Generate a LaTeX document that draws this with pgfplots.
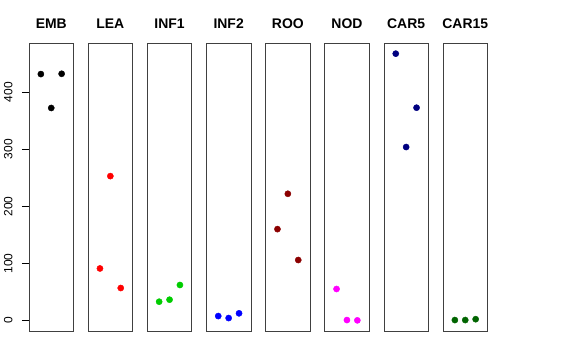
\documentclass[border=0pt]{standalone}
\usepackage{pgfplots}
\pgfplotsset{compat=1.18}
\usepackage{fontspec}
\setmainfont{Liberation Sans}
\definecolor{cEMB}{RGB}{0,0,0}
\definecolor{cLEA}{RGB}{255,0,0}
\definecolor{cINFa}{RGB}{0,205,0}
\definecolor{cINFb}{RGB}{0,0,255}
\definecolor{cROO}{RGB}{139,0,0}
\definecolor{cNOD}{RGB}{255,0,255}
\definecolor{cCARa}{RGB}{0,0,128}
\definecolor{cCARb}{RGB}{0,100,0}
\pgfplotsset{
  panel/.style={
    scale only axis, width=44.5bp, height=288bp, anchor=south west,
    xmin=-0.14, xmax=4.14, ymin=-18.7, ymax=486.5,
    xtick=\empty, ytick=\empty,
    axis line style={black!75, line width=0.8bp},
    title style={font=\fontsize{14}{16}\selectfont\bfseries, at={(0.5,1)}, anchor=base, yshift=9bp, inner sep=0pt},
  },
  pts/.style={only marks, mark=*, mark size=3.1bp, color=#1, mark options={fill=#1, draw=#1}},
}
\begin{document}
\begin{tikzpicture}
\useasboundingbox (0bp,0bp) rectangle (576bp,360bp);
\begin{axis}[panel, at={(29bp,29bp)}, title={EMB},
  ytick={0,100,200,300,400}, tick align=outside, major tick length=7bp,
  ytick pos=left,
  ytick style={black, line width=0.6bp},
  /pgf/number format/assume math mode=true,
  yticklabel style={font=\fontsize{12}{14}\selectfont, xshift=-9.5bp, rotate=90, anchor=base, inner sep=0pt}]
\addplot[pts=cEMB] coordinates {(1,432) (2,372.5) (3,432.5)};
\end{axis}
\begin{axis}[panel, at={(88.1bp,29bp)}, title={LEA}]
\addplot[pts=cLEA] coordinates {(1,91) (2,253) (3,56.7)};
\end{axis}
\begin{axis}[panel, at={(147.3bp,29bp)}, title={INF1}]
\addplot[pts=cINFa] coordinates {(1,32.7) (2,36.2) (3,62)};
\end{axis}
\begin{axis}[panel, at={(206.4bp,29bp)}, title={INF2}]
\addplot[pts=cINFb] coordinates {(1,7.5) (2,4) (3,12.3)};
\end{axis}
\begin{axis}[panel, at={(265.6bp,29bp)}, title={ROO}]
\addplot[pts=cROO] coordinates {(1,160) (2,222) (3,105.8)};
\end{axis}
\begin{axis}[panel, at={(324.7bp,29bp)}, title={NOD}]
\addplot[pts=cNOD] coordinates {(1,55) (2,0.5) (3,0)};
\end{axis}
\begin{axis}[panel, at={(383.9bp,29bp)}, title={CAR5}]
\addplot[pts=cCARa] coordinates {(1,467.8) (2,304) (3,373)};
\end{axis}
\begin{axis}[panel, at={(443bp,29bp)}, title={CAR15}]
\addplot[pts=cCARb] coordinates {(1,0.5) (2,0.5) (3,2)};
\end{axis}
\end{tikzpicture}
\end{document}
